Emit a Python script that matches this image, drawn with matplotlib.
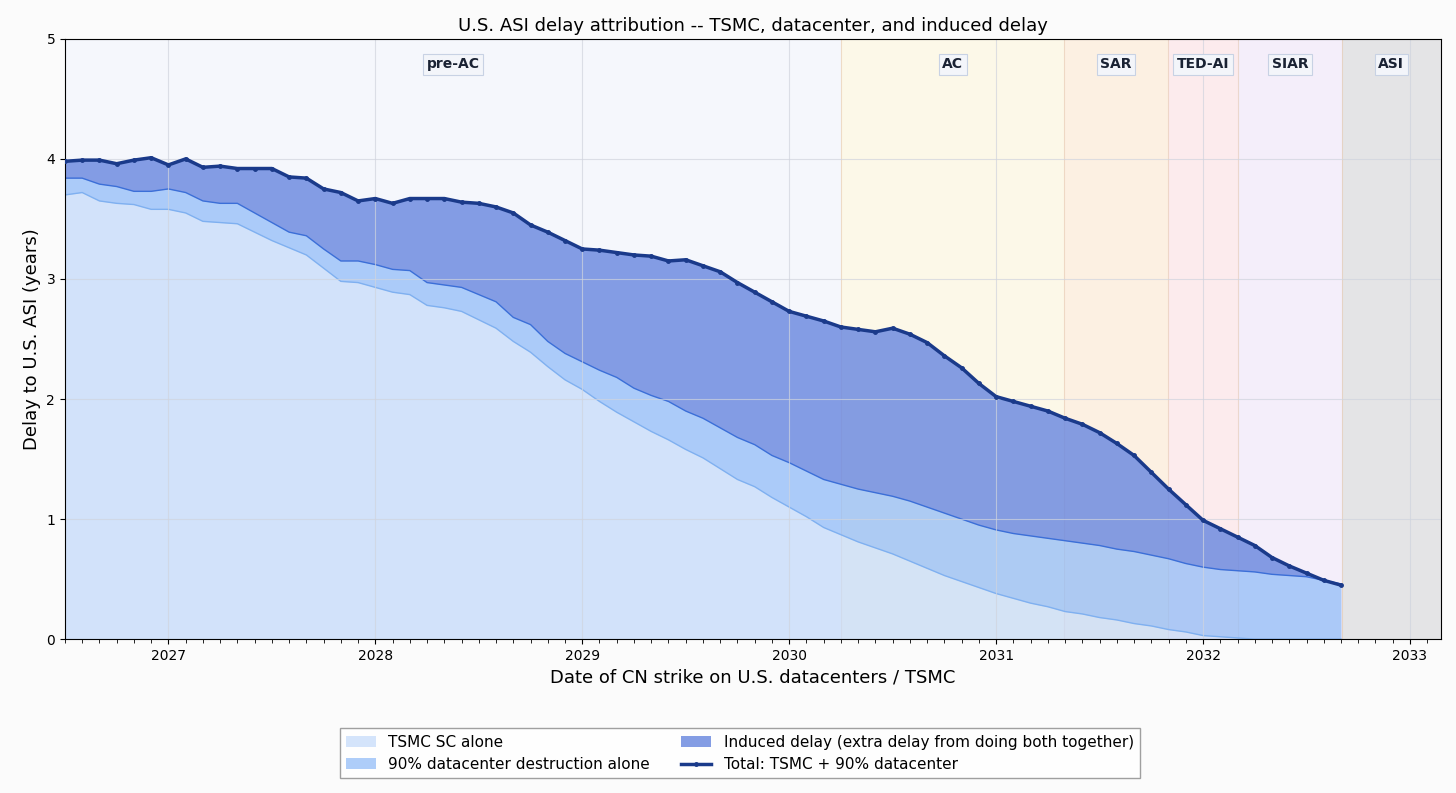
import numpy as np
import matplotlib.pyplot as plt

# monthly strike dates from Jul 2026 to Sep 2032 (decimal years)
total = [3.98, 3.99, 3.99, 3.96, 3.99, 4.01, 3.95, 4.00, 3.93, 3.94, 3.92, 3.92,
         3.92, 3.85, 3.84, 3.75, 3.72, 3.65, 3.67, 3.63, 3.67, 3.67, 3.67, 3.64,
         3.63, 3.60, 3.55, 3.45, 3.39, 3.32, 3.25, 3.24, 3.22, 3.20, 3.19, 3.15,
         3.16, 3.11, 3.06, 2.97, 2.89, 2.81, 2.73, 2.69, 2.65, 2.60, 2.58, 2.56,
         2.59, 2.54, 2.47, 2.36, 2.26, 2.13, 2.02, 1.98, 1.94, 1.90, 1.84, 1.79,
         1.72, 1.63, 1.53, 1.39, 1.25, 1.12, 0.99, 0.92, 0.85, 0.78, 0.68, 0.61,
         0.55, 0.49, 0.45]
tsmc_plus_dc = [3.84, 3.84, 3.79, 3.77, 3.73, 3.73, 3.75, 3.72, 3.65, 3.63, 3.63, 3.55,
                3.47, 3.39, 3.36, 3.25, 3.15, 3.15, 3.12, 3.08, 3.07, 2.97, 2.95, 2.93,
                2.87, 2.81, 2.68, 2.62, 2.48, 2.38, 2.31, 2.24, 2.18, 2.09, 2.03, 1.98,
                1.90, 1.84, 1.76, 1.68, 1.62, 1.53, 1.47, 1.40, 1.33, 1.29, 1.25, 1.22,
                1.19, 1.15, 1.10, 1.05, 1.00, 0.95, 0.91, 0.88, 0.86, 0.84, 0.82, 0.80,
                0.78, 0.75, 0.73, 0.70, 0.67, 0.63, 0.60, 0.58, 0.57, 0.56, 0.54, 0.53,
                0.52, 0.49, 0.46]
tsmc = [3.70, 3.72, 3.65, 3.63, 3.62, 3.58, 3.58, 3.55, 3.48, 3.47, 3.46, 3.39,
        3.32, 3.26, 3.20, 3.09, 2.98, 2.97, 2.93, 2.89, 2.87, 2.78, 2.76, 2.73,
        2.66, 2.59, 2.48, 2.39, 2.27, 2.16, 2.08, 1.98, 1.89, 1.81, 1.73, 1.66,
        1.58, 1.51, 1.42, 1.33, 1.27, 1.18, 1.10, 1.02, 0.93, 0.87, 0.81, 0.76,
        0.71, 0.65, 0.59, 0.53, 0.48, 0.43, 0.38, 0.34, 0.30, 0.27, 0.23, 0.21,
        0.18, 0.16, 0.13, 0.11, 0.08, 0.06, 0.03, 0.02, 0.01, 0.0, 0.0, 0.0,
        0.0, 0.0, 0.0]
dates = 2026.5 + np.arange(len(total)) / 12

stages = ['pre-AC', 'AC', 'SAR', 'TED-AI', 'SIAR', 'ASI']
stage_edges = [2026.5, 2030.25, 2031.33, 2031.83, 2032.17, 2032.67, 2033.15]
stage_colors = ['#f5f7fc', '#fcf8e8', '#fcf0e2', '#fcebed', '#f4eefa', '#e4e4e6']

fig = plt.figure(figsize=(14.56, 7.93), dpi=100, facecolor='#fbfbfb')
ax = fig.add_axes([0.0446, 0.194, 0.9451, 0.757])

for i, name in enumerate(stages):
    ax.axvspan(stage_edges[i], stage_edges[i + 1], color=stage_colors[i], zorder=0, lw=0)
    if i > 0:
        ax.axvline(stage_edges[i], color='#e6c9b0', lw=0.8, alpha=0.6, zorder=0.5)
    ax.text((stage_edges[i] + stage_edges[i + 1]) / 2, 4.79, name, ha='center', va='center',
            fontsize=10, fontweight='bold', color='#1a2233',
            bbox=dict(boxstyle='square,pad=0.25', fc='#f3f5fa', ec='#c8d2e4', lw=0.8))

ax.grid(True, color='#d0d4de', lw=0.8, alpha=0.7, zorder=0.6)

tsmc = np.array(tsmc)
tsmc_plus_dc = np.array(tsmc_plus_dc)
total = np.array(total)
h1 = ax.fill_between(dates, 0, tsmc, color='#c7dcfa', alpha=0.75, lw=0, zorder=1,
                     label='TSMC SC alone')
ax.plot(dates, tsmc, color='#7fb0f0', lw=1, zorder=1.1)
h2 = ax.fill_between(dates, tsmc, tsmc_plus_dc, color='#93bdf8', alpha=0.75, lw=0, zorder=1,
                     label='90% datacenter destruction alone')
ax.plot(dates, tsmc_plus_dc, color='#3b6fd8', lw=1, zorder=1.1)
h3 = ax.fill_between(dates, tsmc_plus_dc, total, facecolor='#6f8ce0', edgecolor='#3a5fcf',
                     alpha=0.85, lw=0, zorder=1,
                     label='Induced delay (extra delay from doing both together)')
h4, = ax.plot(dates, total, color='#1a3a8a', lw=2.5, marker='o', ms=2.5, zorder=3,
              label='Total: TSMC + 90% datacenter')

ax.set_xlim(2026.5, 2033.15)
ax.set_ylim(0, 5)
ax.set_xticks(range(2027, 2034))
ax.set_xticklabels([str(y) for y in range(2027, 2034)])
ax.set_xticks(np.arange(2026.5, 2033.15, 1 / 12), minor=True)
ax.tick_params(axis='x', which='minor', length=3)
ax.tick_params(labelsize=10)
ax.set_title('U.S. ASI delay attribution -- TSMC, datacenter, and induced delay', fontsize=13)
ax.set_xlabel('Date of CN strike on U.S. datacenters / TSMC', fontsize=13)
ax.set_ylabel('Delay to U.S. ASI (years)', fontsize=13)

handles = [h1, h2, h3, h4]
fig.legend(handles, [h.get_label() for h in handles],
           loc='center', bbox_to_anchor=(0.508, 0.05), ncol=2, fontsize=11,
           frameon=True, edgecolor='#888888', fancybox=False)

fig.savefig('out.png', dpi=100, facecolor=fig.get_facecolor())
